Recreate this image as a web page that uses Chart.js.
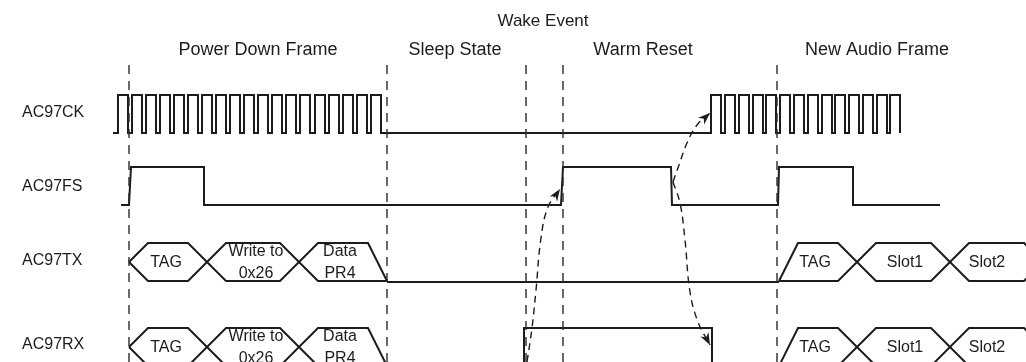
<!DOCTYPE html>
<html>
<head>
<meta charset="utf-8">
<title>AC97 Warm Reset Timing</title>
<script src="https://cdn.jsdelivr.net/npm/chart.js"></script>
<style>
  html, body { margin: 0; padding: 0; background: #fff; overflow: hidden; }
</style>
</head>
<body>
<canvas id="timing" width="1026" height="362"></canvas>
<script>
// --- timing data (x = time axis units, y = row levels, top = 0) ---
const phaseLabels = ['Power Down Frame', 'Sleep State', 'Warm Reset', 'New Audio Frame'];
const phaseCenters = [258, 455, 643, 877];
const eventLabel = 'Wake Event';
const eventCenter = 543;
const markerTimes = [129, 387, 526, 563, 777];

const signalNames = ['AC97CK', 'AC97FS', 'AC97TX', 'AC97RX'];
const signalRows = [113, 187, 261, 345];

// clock: high/low level and edge times
const ckLevel = [95, 133];
const ckStart = 113;
const ckRise1 = [118, 132, 146, 160, 174, 188, 202, 216, 230, 244, 258, 272, 286, 300, 315, 329, 343, 357, 371];
const ckFall1 = [128, 142, 156, 170, 184, 198, 212, 226, 240, 254, 268, 282, 296, 310, 325, 339, 353, 367, 381];
const ckRise2 = [711, 725, 739, 753, 766, 780, 794, 808, 822, 835, 849, 863, 877, 890];
const ckFall2 = [721, 735, 749, 763, 776, 790, 804, 818, 832, 845, 859, 873, 887, 900];

// frame sync: transition times and logic level (1 = high)
const fsLevel = [167, 205];
const fsTimes = [121, 129, 131, 204, 204, 561, 563, 671, 672, 778, 779, 853, 853, 940];
const fsBits  = [0,   0,   1,   1,   0,   0,   1,   1,   0,   0,   1,   1,   0,   0];

// serial data buses: slot boundaries, slot names and where the names sit
const txLevel = [243, 281];
const rxLevel = [328, 366];
const frame1Bounds = [129, 207, 299, 387];
const frame1Slots = [['TAG'], ['Write to', '0x26'], ['Data', 'PR4']];
const frame1Centers = [166, 256, 340];
const frame2Bounds = [779, 857, 950, 1043];
const frame2Slots = [['TAG'], ['Slot1'], ['Slot2']];
const frame2Centers = [815, 905, 987];
const rxWake = [524, 712];

// causal arrows (dashed)
const wakeArrow = [[527, 362], [532, 328], [536, 290], [541, 238], [548, 207], [560, 189]];
const ckArrow = [[673, 182], [679, 165], [687, 143], [697, 125], [710, 113]];
const rxArrow = [[673, 182], [680, 203], [685, 240], [690, 292], [698, 322], [710, 345]];

// --- build datasets ---
const INK = '#1c1c1c';
const FONT = '"Liberation Sans", Arial, Helvetica, sans-serif';
const SLANT = 19;

function pts(arr) { return arr.map(p => ({ x: p[0], y: p[1] })); }

function line(points, extra) {
  return Object.assign({
    data: pts(points), showLine: true, borderColor: INK, borderWidth: 2,
    pointRadius: 0, fill: false, tension: 0
  }, extra || {});
}

// clock waveform
const ckPts = [[ckStart, ckLevel[1]]];
ckRise1.forEach((r, i) => {
  ckPts.push([r, ckLevel[1]], [r, ckLevel[0]], [ckFall1[i], ckLevel[0]], [ckFall1[i], ckLevel[1]]);
});
ckRise2.forEach((r, i) => {
  ckPts.push([r, ckLevel[1]], [r, ckLevel[0]], [ckFall2[i], ckLevel[0]], [ckFall2[i], ckLevel[1]]);
});

const fsPts = fsTimes.map((t, i) => [t, fsBits[i] ? fsLevel[0] : fsLevel[1]]);

// bus rails: two polylines crossing at each slot boundary
function busRails(bounds, lvl, startMode, endMode) {
  const top = lvl[0], bot = lvl[1], mid = (top + bot) / 2;
  const a = [], b = [];
  const n = bounds.length - 1;
  if (startMode === 'mid') {
    a.push([bounds[0], mid]); b.push([bounds[0], mid]);
    a.push([bounds[0] + SLANT, top]); b.push([bounds[0] + SLANT, bot]);
  } else {
    a.push([bounds[0], bot]); b.push([bounds[0], bot]);
    a.push([bounds[0] + SLANT, top]);
  }
  let upA = true;
  for (let i = 1; i < n; i++) {
    const x = bounds[i];
    a.push([x - SLANT, upA ? top : bot], [x + SLANT, upA ? bot : top]);
    b.push([x - SLANT, upA ? bot : top], [x + SLANT, upA ? top : bot]);
    upA = !upA;
  }
  const e = bounds[n];
  if (endMode === 'low') {
    a.push([e - SLANT, upA ? top : bot], [e, bot]);
    b.push([e - SLANT, upA ? bot : top], [e, bot]);
  } else {
    a.push([e - SLANT, upA ? top : bot], [e, mid]);
    b.push([e - SLANT, upA ? bot : top], [e, mid]);
  }
  return [a, b];
}

const datasets = [];

// dashed phase markers
markerTimes.forEach(t => {
  datasets.push(line([[t, 65], [t, 370]], { borderWidth: 1.4, borderDash: [9, 7], borderColor: '#2a2a2a' }));
});

datasets.push(line(ckPts));
datasets.push(line(fsPts));

[txLevel, rxLevel].forEach((lvl, k) => {
  busRails(frame1Bounds, lvl, 'mid', 'low').forEach(r => datasets.push(line(r)));
  busRails(frame2Bounds, lvl, 'low', 'open').forEach(r => datasets.push(line(r)));
  if (k === 0) {
    datasets.push(line([[frame1Bounds[3], lvl[1] + 1], [frame2Bounds[0], lvl[1] + 1]]));
  } else {
    datasets.push(line([[frame1Bounds[3], lvl[1]], [rxWake[0], lvl[1]], [rxWake[0], lvl[0]],
      [rxWake[1], lvl[0]], [rxWake[1], lvl[1]], [frame2Bounds[0], lvl[1]]]));
  }
});

const arrows = [wakeArrow, ckArrow, rxArrow];
arrows.forEach(a => {
  datasets.push(line(a, { borderWidth: 1.4, borderDash: [7, 5], tension: 0.4 }));
});

// --- text + arrowheads plugin ---
const annotate = {
  id: 'annotate',
  afterDatasetsDraw(chart) {
    const { ctx, scales: { x, y } } = chart;
    const px = v => x.getPixelForValue(v), py = v => y.getPixelForValue(v);
    ctx.save();
    ctx.fillStyle = INK;
    ctx.textBaseline = 'middle';

    // arrowheads
    arrows.forEach(a => {
      const [x1, y1] = a[a.length - 2], [x2, y2] = a[a.length - 1];
      const tx = px(x2), ty = py(y2);
      const ang = Math.atan2(py(y2) - py(y1), px(x2) - px(x1));
      const L = 12, W = 4.5;
      ctx.beginPath();
      ctx.moveTo(tx, ty);
      ctx.lineTo(tx - L * Math.cos(ang) + W * Math.sin(ang), ty - L * Math.sin(ang) - W * Math.cos(ang));
      ctx.lineTo(tx - 0.7 * L * Math.cos(ang), ty - 0.7 * L * Math.sin(ang));
      ctx.lineTo(tx - L * Math.cos(ang) - W * Math.sin(ang), ty - L * Math.sin(ang) + W * Math.cos(ang));
      ctx.closePath();
      ctx.fill();
    });

    // headings
    ctx.textAlign = 'center';
    ctx.font = '17px ' + FONT;
    ctx.fillText(eventLabel, px(eventCenter), py(21));
    ctx.font = '18px ' + FONT;
    phaseLabels.forEach((t, i) => ctx.fillText(t, px(phaseCenters[i]), py(50)));

    // signal names
    ctx.textAlign = 'left';
    ctx.font = '16px ' + FONT;
    signalNames.forEach((s, i) => ctx.fillText(s, 22, py(signalRows[i])));

    // slot names
    ctx.textAlign = 'center';
    ctx.font = '16px ' + FONT;
    [txLevel, rxLevel].forEach(lvl => {
      const mid = (lvl[0] + lvl[1]) / 2;
      [[frame1Slots, frame1Centers], [frame2Slots, frame2Centers]].forEach(([slots, centers]) => {
        slots.forEach((s, i) => {
          const cx = px(centers[i]);
          if (s.length === 1) {
            ctx.fillText(s[0], cx, py(mid + 1));
          } else {
            ctx.fillText(s[0], cx, py(mid - 10));
            ctx.fillText(s[1], cx, py(mid + 12));
          }
        });
      });
    });
    ctx.restore();
  }
};

new Chart(document.getElementById('timing'), {
  type: 'scatter',
  data: { datasets: datasets },
  options: {
    responsive: false,
    animation: false,
    events: [],
    layout: { padding: 0 },
    plugins: { legend: { display: false }, tooltip: { enabled: false } },
    scales: {
      x: { type: 'linear', display: false, min: 0, max: 1026 },
      y: { type: 'linear', display: false, min: 0, max: 362, reverse: true }
    }
  },
  plugins: [annotate]
});
</script>
</body>
</html>
